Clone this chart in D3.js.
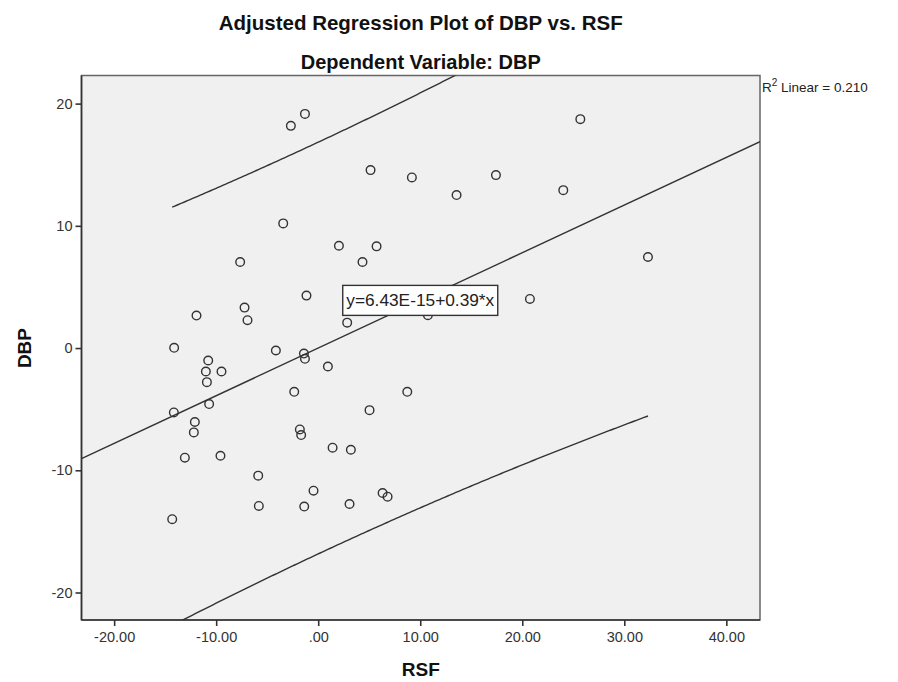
<!DOCTYPE html>
<html>
<head>
<meta charset="utf-8">
<script src="https://cdn.jsdelivr.net/npm/d3@7"></script>
<style>
  body { margin: 0; background: #fff; }
  svg { font-family: "Liberation Sans", Arial, sans-serif; }
</style>
</head>
<body>
<script>
const W = 898, H = 682;

// residuals of RSF (x) and DBP (y)
const rsf = [-2.68, -1.30, 5.13, 9.18, 13.56, 17.42, -3.43, 2.03, 5.72, 4.34,
  -7.65, -1.15, -7.22, -11.93, -6.93, 2.84, 10.75, 20.75, 25.69, 24.02,
  32.32, -14.12, -4.15, -1.40, -1.30, -10.78, -11.01, -9.48, 0.95, -10.91,
  -2.35, 8.73, -10.69, -14.15, -12.09, -12.19, 5.03, -1.80, -1.67, 1.41,
  3.20, -13.07, -9.58, -5.88, -0.46, 6.31, 6.80, -5.82, -1.37, 3.07, -14.31];
const dbp = [18.18, 19.16, 14.56, 13.96, 12.52, 14.15, 10.20, 8.37, 8.32, 7.04,
  7.04, 4.29, 3.31, 2.66, 2.28, 2.08, 2.69, 4.02, 18.73, 12.92,
  7.45, 0.02, -0.20, -0.45, -0.88, -1.02, -1.92, -1.92, -1.51, -2.79,
  -3.58, -3.58, -4.58, -5.27, -6.05, -6.90, -5.08, -6.66, -7.12, -8.15,
  -8.32, -8.97, -8.81, -10.44, -11.67, -11.86, -12.16, -12.92, -12.97, -12.76, -14.00];

const xTicks = [-20, -10, 0, 10, 20, 30, 40];
const yTicks = [-20, -10, 0, 10, 20];

// fit reported by the chart
const intercept = 6.43e-15;
const slope = 0.39;
const rSquared = 0.210;
// 95% individual prediction interval: t*s*sqrt(1 + 1/n + x^2/Sxx)
const nObs = 51, tCrit = 2.0096, sResid = 8.30, sxx = 6281;

const margin = { left: 81.5, right: W - 760, top: 75.5, bottom: H - 620 };
const pw = W - margin.left - margin.right;
const ph = H - margin.top - margin.bottom;

const svg = d3.select('body').append('svg').attr('width', W).attr('height', H);

const x = d3.scaleLinear().domain([-23.2, 43.3]).range([0, pw]);
const y = d3.scaleLinear().domain([-22.25, 22.3]).range([ph, 0]);

// titles
svg.append('text').attr('x', margin.left + pw / 2).attr('y', 30)
  .attr('text-anchor', 'middle').attr('font-size', 20.5).attr('font-weight', 'bold')
  .attr('fill', '#111').text('Adjusted Regression Plot of DBP vs. RSF');
svg.append('text').attr('x', margin.left + pw / 2).attr('y', 69)
  .attr('text-anchor', 'middle').attr('font-size', 20).attr('font-weight', 'bold')
  .attr('fill', '#111').text('Dependent Variable: DBP');

const g = svg.append('g').attr('transform', `translate(${margin.left},${margin.top})`);

g.append('rect').attr('width', pw).attr('height', ph)
  .attr('fill', '#f0f0f0').attr('stroke', '#666').attr('stroke-width', 1.5);

g.append('clipPath').attr('id', 'clip')
  .append('rect').attr('width', pw).attr('height', ph);

// axes
const xAxis = g.append('g').attr('transform', `translate(0,${ph})`)
  .call(d3.axisBottom(x).tickValues(xTicks).tickSize(6).tickPadding(6)
    .tickFormat(d => d === 0 ? '.00' : d.toFixed(2)));
const yAxis = g.append('g')
  .call(d3.axisLeft(y).tickValues(yTicks).tickSize(6).tickPadding(3)
    .tickFormat(d => d));
[xAxis, yAxis].forEach(a => {
  a.select('.domain').attr('stroke', '#333').attr('stroke-width', 1.6);
  a.selectAll('.tick line').attr('stroke', '#333').attr('stroke-width', 1.6);
  a.selectAll('.tick text').attr('font-size', 14.5).attr('fill', '#333')
    .attr('font-family', '"Liberation Sans", Arial, sans-serif');
});
xAxis.select('.domain').attr('d', `M0,0H${pw}`);
yAxis.select('.domain').attr('d', `M0,0V${ph}`);

// axis titles
svg.append('text').attr('x', margin.left + pw / 2).attr('y', 676)
  .attr('text-anchor', 'middle').attr('font-size', 19).attr('font-weight', 'bold')
  .attr('fill', '#111').text('RSF');
svg.append('text').attr('transform', `translate(31,${y(0) + margin.top}) rotate(-90)`)
  .attr('text-anchor', 'middle').attr('font-size', 19).attr('font-weight', 'bold')
  .attr('fill', '#111').text('DBP');

// regression line and prediction interval
const lines = g.append('g').attr('clip-path', 'url(#clip)');
const fit = v => intercept + slope * v;
const half = v => tCrit * sResid * Math.sqrt(1 + 1 / nObs + v * v / sxx);
lines.append('path')
  .attr('d', d3.line()(x.domain().map(v => [x(v), y(fit(v))])))
  .attr('fill', 'none').attr('stroke', '#333').attr('stroke-width', 1.4);

const xMin = d3.min(rsf), xMax = d3.max(rsf);
const grid = d3.range(xMin, xMax, 0.25).concat([xMax]);
[1, -1].forEach(sign => {
  lines.append('path')
    .attr('d', d3.line()(grid.map(v => [x(v), y(fit(v) + sign * half(v))])))
    .attr('fill', 'none').attr('stroke', '#333').attr('stroke-width', 1.4);
});

// points
g.append('g').selectAll('circle').data(rsf).join('circle')
  .attr('cx', d => x(d)).attr('cy', (d, i) => y(dbp[i])).attr('r', 4.3)
  .attr('fill', 'none').attr('stroke', '#333').attr('stroke-width', 1.4);

// equation label
const eq = g.append('g').attr('transform', `translate(${x(10)},${y(fit(10))})`);
eq.append('rect').attr('x', -77.5).attr('y', -15).attr('width', 155).attr('height', 30)
  .attr('fill', '#fff').attr('stroke', '#333').attr('stroke-width', 1.4);
eq.append('text').attr('text-anchor', 'middle').attr('y', 6).attr('font-size', 16.5)
  .attr('textLength', 148).attr('lengthAdjust', 'spacingAndGlyphs')
  .attr('fill', '#222').text(`y=${intercept.toExponential(2).toUpperCase()}+${slope}*x`);

// R squared label
const r2 = svg.append('text').attr('x', 762).attr('y', 92).attr('font-size', 13.5).attr('fill', '#222');
r2.append('tspan').text('R');
r2.append('tspan').attr('dy', -6).attr('font-size', 10).text('2');
r2.append('tspan').attr('dy', 6).text(` Linear = ${rSquared.toFixed(3)}`);
</script>
</body>
</html>
